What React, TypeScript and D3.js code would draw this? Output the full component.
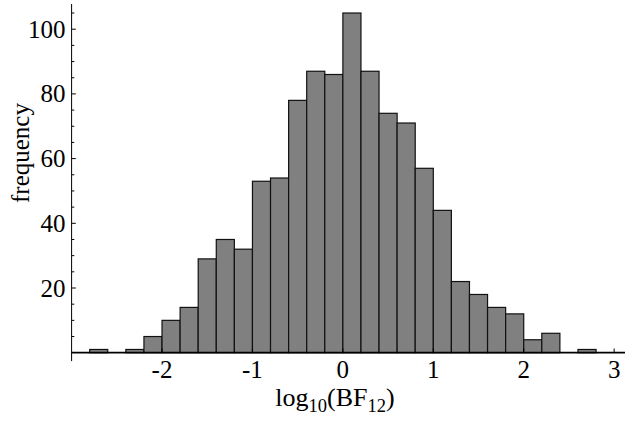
import React, { useEffect, useRef } from 'react';
import * as d3 from 'd3';

// histogram bins of log10(BF12), width 0.2
const binStart = [-2.8, -2.4, -2.2, -2.0, -1.8, -1.6, -1.4, -1.2, -1.0, -0.8, -0.6, -0.4, -0.2, 0.0, 0.2, 0.4, 0.6, 0.8, 1.0, 1.2, 1.4, 1.6, 1.8, 2.0, 2.2, 2.6];
const binEnd = [-2.6, -2.2, -2.0, -1.8, -1.6, -1.4, -1.2, -1.0, -0.8, -0.6, -0.4, -0.2, 0.0, 0.2, 0.4, 0.6, 0.8, 1.0, 1.2, 1.4, 1.6, 1.8, 2.0, 2.2, 2.4, 2.8];
const counts = [1, 1, 5, 10, 14, 29, 35, 32, 53, 54, 78, 87, 86, 105, 87, 74, 71, 57, 44, 22, 18, 14, 12, 4, 6, 1];

const xTicks = [-2, -1, 0, 1, 2, 3];
const yTicks = [20, 40, 60, 80, 100];
const yMinorTicks = [5, 10, 15, 25, 30, 35, 45, 50, 55, 65, 70, 75, 85, 90, 95, 105];

function App() {
  const svgRef = useRef<SVGSVGElement>(null);

  useEffect(() => {
    const svg = d3.select(svgRef.current);
    svg.selectAll('*').remove();
    const font = '"Liberation Serif", "Times New Roman", serif';

    const x = d3.scaleLinear().domain([-3, 3.12]).range([71.6, 625]);
    const y = d3.scaleLinear().domain([0, 100]).range([352.7, 29.2]);

    const bins = counts.map((c, i) => ({ x0: binStart[i], x1: binEnd[i], c }));

    // bars
    svg.append('g')
      .selectAll('rect')
      .data(bins)
      .enter()
      .append('rect')
      .attr('x', d => x(d.x0))
      .attr('y', d => y(d.c))
      .attr('width', d => x(d.x1) - x(d.x0))
      .attr('height', d => y(0) - y(d.c))
      .attr('fill', '#808080')
      .attr('stroke', '#111')
      .attr('stroke-width', 1.2);

    // axes lines
    svg.append('line')
      .attr('x1', x(-3)).attr('x2', 625)
      .attr('y1', y(0)).attr('y2', y(0))
      .attr('stroke', 'black').attr('stroke-width', 1.8);
    svg.append('line')
      .attr('x1', x(-3)).attr('x2', x(-3))
      .attr('y1', y(-2.6)).attr('y2', y(107.8))
      .attr('stroke', 'black').attr('stroke-width', 1);

    // y ticks
    svg.append('g').selectAll('line.minor')
      .data(yMinorTicks).enter().append('line')
      .attr('x1', x(-3)).attr('x2', x(-3) + 2.7)
      .attr('y1', d => y(d)).attr('y2', d => y(d))
      .attr('stroke', 'black').attr('stroke-width', 1);
    svg.append('g').selectAll('line.major')
      .data(yTicks).enter().append('line')
      .attr('x1', x(-3)).attr('x2', x(-3) + 4.2)
      .attr('y1', d => y(d)).attr('y2', d => y(d))
      .attr('stroke', 'black').attr('stroke-width', 1);
    svg.append('g').selectAll('text')
      .data(yTicks).enter().append('text')
      .attr('x', x(-3) - 6)
      .attr('y', d => y(d) + 8.5)
      .attr('text-anchor', 'end')
      .attr('font-family', font)
      .attr('font-size', 25)
      .text(d => d);

    // x ticks
    svg.append('g').selectAll('line')
      .data(xTicks).enter().append('line')
      .attr('x1', d => x(d)).attr('x2', d => x(d))
      .attr('y1', y(0)).attr('y2', y(0) - 4.2)
      .attr('stroke', 'black').attr('stroke-width', 1);
    svg.append('g').selectAll('text')
      .data(xTicks).enter().append('text')
      .attr('x', d => x(d))
      .attr('y', 378)
      .attr('text-anchor', 'middle')
      .attr('font-family', font)
      .attr('font-size', 25)
      .text(d => d);

    // x label: log10(BF12)
    const xl = svg.append('text')
      .attr('x', 335)
      .attr('y', 406)
      .attr('text-anchor', 'middle')
      .attr('font-family', font)
      .attr('font-size', 26);
    xl.append('tspan').text('log');
    xl.append('tspan').attr('font-size', 18.5).attr('dy', 6).text('10');
    xl.append('tspan').attr('dy', -6).text('(BF');
    xl.append('tspan').attr('font-size', 18.5).attr('dy', 6).text('12');
    xl.append('tspan').attr('dy', -6).text(')');

    // y label
    svg.append('text')
      .attr('transform', 'translate(29,153) rotate(-90)')
      .attr('text-anchor', 'middle')
      .attr('font-family', font)
      .attr('font-size', 25)
      .text('frequency');
  }, []);

  return (
    <svg ref={svgRef} width={625} height={425}
      style={{ position: 'absolute', left: 0, top: 0, background: 'white' }}></svg>
  );
}

export default App;
